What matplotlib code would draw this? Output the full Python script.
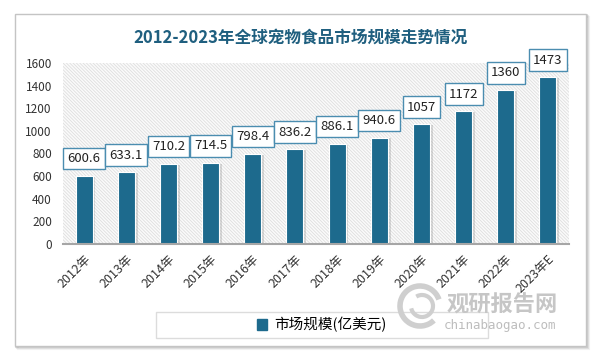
import matplotlib
matplotlib.use("Agg")
import matplotlib.pyplot as plt
from matplotlib.patches import Rectangle, Arc
import numpy as np

plt.rcParams['font.family'] = ['Noto Sans CJK SC', 'DejaVu Sans']
plt.rcParams['hatch.linewidth'] = 0.6

# data
years = ['2012年', '2013年', '2014年', '2015年', '2016年', '2017年',
         '2018年', '2019年', '2020年', '2021年', '2022年', '2023年E']
market = [600.6, 633.1, 710.2, 714.5, 798.4, 836.2,
          886.1, 940.6, 1057, 1172, 1360, 1473]
labels = ['600.6', '633.1', '710.2', '714.5', '798.4', '836.2',
          '886.1', '940.6', '1057', '1172', '1360', '1473']
yticks = [0, 200, 400, 600, 800, 1000, 1200, 1400, 1600]

bar_color = '#1d6a8d'
edge_color = '#4b8db0'

fig = plt.figure(figsize=(6, 3.59), dpi=100)
W, H = 600, 359

def fx(px):
    return px / W

def fy(py):
    return 1 - py / H

# outer frame with soft shadow
for i, a in enumerate([0.05, 0.08, 0.12]):
    d = 3 - i
    fig.patches.append(Rectangle((fx(15 + d), fy(346 + d)), fx(571), 332 / H,
                                 transform=fig.transFigure, facecolor='none',
                                 edgecolor='black', alpha=a, lw=1.5, zorder=0))
fig.patches.append(Rectangle((fx(15), fy(346)), fx(571), 332 / H,
                             transform=fig.transFigure, facecolor='white',
                             edgecolor='#c4c4c4', lw=1, zorder=1))

fig.text(0.5, fy(38), '2012-2023年全球宠物食品市场规模走势情况',
         ha='center', va='center', fontsize=12, fontweight='bold',
         color='#1f5f7f')

ax = fig.add_axes([fx(63), fy(244), fx(506), 181 / H])
ax.set_zorder(2)
ax.patch.set_alpha(0)

x = np.arange(len(years))
bg = Rectangle((0, 0), 1, 1, transform=ax.transAxes, facecolor='#fbfbfb',
               edgecolor='#dedede', hatch='\\' * 10, lw=0, zorder=0)
ax.add_patch(bg)

# shadow then bars
ax.bar(x + 0.06, market, 0.42, bottom=-8, color='#8c8c8c', alpha=0.3, zorder=1)
ax.bar(x, market, 0.40, color=bar_color, edgecolor='white', lw=0.8, zorder=2)

for xi, v, t in zip(x, market, labels):
    ax.annotate(t, (xi, v), xytext=(0, 12.5), textcoords='offset points',
                ha='center', va='center', fontsize=9.5, color='#222222',
                bbox=dict(boxstyle='square,pad=0.32', fc='white',
                          ec=edge_color, lw=1), zorder=4)

ax.set_xlim(-0.5, len(years) - 0.5)
ax.set_ylim(0, 1600)
ax.set_yticks(yticks)
ax.set_xticks(x)
ax.set_xticklabels(years, rotation=45, ha='right', va='top',
                   rotation_mode='anchor', fontsize=9, color='#333333')
ax.tick_params(axis='y', length=0, pad=8, labelsize=8.5, labelcolor='#333333')
ax.tick_params(axis='x', length=0, pad=6)
for s in ['left', 'right', 'top']:
    ax.spines[s].set_visible(False)
ax.spines['bottom'].set_color('#a6a6a6')
ax.spines['bottom'].set_linewidth(1.5)
ax.spines['bottom'].set_zorder(5)

# legend
fig.patches.append(Rectangle((fx(156), fy(338)), fx(332), 26 / H,
                             transform=fig.transFigure, facecolor='white',
                             edgecolor='#dcdcdc', lw=1, zorder=2))
h = Rectangle((0, 0), 1, 1, color=bar_color)
leg = fig.legend([h], ['市场规模(亿美元)'], loc='center',
                 bbox_to_anchor=(fx(322), fy(325)), frameon=False,
                 fontsize=10.5, handlelength=0.7, handleheight=0.7,
                 handletextpad=0.5)
leg.set_zorder(3)

# watermark
fig.patches.append(Arc((fx(420), fy(306)), 40 / W, 40 / H, theta1=30, theta2=300,
                       transform=fig.transFigure, color='#cfcfcf', lw=4, zorder=3))
fig.patches.append(Arc((fx(422), fy(306)), 22 / W, 22 / H, theta1=200, theta2=470,
                       transform=fig.transFigure, color='#cfcfcf', lw=3, zorder=3))
fig.text(fx(502), fy(305), '观研报告网', ha='center', va='center', fontsize=16,
         fontweight='bold', color='#c6c6c6', zorder=3)
fig.text(fx(500), fy(325), 'chinabaogao.com', ha='center', va='center',
         fontsize=9, family='DejaVu Sans Mono', color='#bdbdbd', zorder=3)

fig.savefig('out.png', dpi=100)
